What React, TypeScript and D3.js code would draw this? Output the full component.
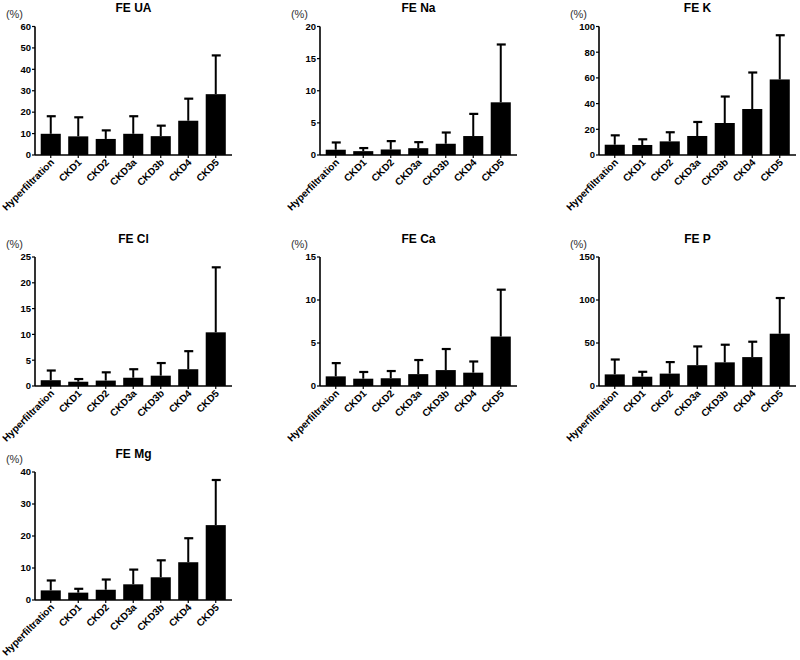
import React from "react";
import * as d3 from "d3";

const categories = ["Hyperfiltration", "CKD1", "CKD2", "CKD3a", "CKD3b", "CKD4", "CKD5"];

const panelTitles = ["FE UA", "FE Na", "FE K", "FE Cl", "FE Ca", "FE P", "FE Mg"];

const uaMean = [9.9, 8.7, 7.5, 9.9, 8.8, 16.0, 28.4];
const uaErr = [18.1, 17.6, 11.5, 18.1, 13.7, 26.3, 46.5];
const naMean = [0.82, 0.6, 0.86, 1.06, 1.75, 2.95, 8.2];
const naErr = [1.95, 1.08, 2.16, 2.0, 3.5, 6.4, 17.2];
const kMean = [8.0, 7.8, 10.6, 14.8, 24.9, 35.8, 58.8];
const kErr = [15.3, 12.2, 17.7, 25.7, 45.5, 64.2, 93.2];
const clMean = [1.12, 0.83, 1.05, 1.6, 2.0, 3.25, 10.4];
const clErr = [3.0, 1.35, 2.65, 3.25, 4.45, 6.75, 23.0];
const caMean = [1.12, 0.85, 0.9, 1.38, 1.85, 1.55, 5.75];
const caErr = [2.66, 1.63, 1.74, 3.02, 4.3, 2.85, 11.2];
const pMean = [13.5, 10.8, 14.4, 24.2, 27.5, 33.6, 60.8];
const pErr = [30.8, 16.5, 27.8, 46.0, 48.0, 51.5, 102.3];
const mgMean = [3.0, 2.3, 3.2, 4.9, 7.1, 11.8, 23.4];
const mgErr = [6.1, 3.5, 6.4, 9.5, 12.4, 19.3, 37.5];

const yMaxes = [60, 20, 100, 25, 15, 150, 40];
const yTicks = [
  [0, 10, 20, 30, 40, 50, 60],
  [0, 5, 10, 15, 20],
  [0, 20, 40, 60, 80, 100],
  [0, 5, 10, 15, 20, 25],
  [0, 5, 10, 15],
  [0, 50, 100, 150],
  [0, 10, 20, 30, 40],
];
const unitLabel = "(%)";

const means = [uaMean, naMean, kMean, clMean, caMean, pMean, mgMean];
const errs = [uaErr, naErr, kErr, clErr, caErr, pErr, mgErr];

const colX = [35, 320, 599];
const rowTop = [26.5, 257, 472];
const rowBase = [155, 386, 600];

const FONT = "'Liberation Sans', Arial, Helvetica, sans-serif";

function Panel({ idx }: { idx: number }) {
  const col = idx % 3;
  const row = Math.floor(idx / 3);
  const ax = colX[col];
  const top = rowTop[row];
  const base = rowBase[row];
  const axisLen = 197;

  const x = d3
    .scaleBand<string>()
    .domain(categories)
    .range([ax + 2, ax + 2 + 7 * 27.5])
    .paddingInner(0.27)
    .paddingOuter(0.135);
  const y = d3.scaleLinear().domain([0, yMaxes[idx]]).range([base, top]);
  const bw = x.bandwidth();
  const capW = 9;

  return (
    <g>
      <text
        x={ax + axisLen / 2}
        y={top - 14.5}
        textAnchor="middle"
        fontFamily={FONT}
        fontWeight="bold"
        fontSize={12}
        fill="#000"
      >
        {panelTitles[idx]}
      </text>
      <text
        x={ax - 12}
        y={top - 9}
        textAnchor="end"
        fontFamily={FONT}
        fontSize={11}
        fill="#333"
      >
        {unitLabel}
      </text>
      {/* bars */}
      {categories.map((c, i) => {
        const cx = (x(c) as number) + bw / 2;
        const yt = y(means[idx][i]);
        const ye = y(errs[idx][i]);
        return (
          <g key={c}>
            <line x1={cx} x2={cx} y1={yt} y2={ye} stroke="#000" strokeWidth={2} />
            <line x1={cx - capW / 2 + 0.5} x2={cx + capW / 2 + 0.5} y1={ye} y2={ye} stroke="#000" strokeWidth={2.2} />
            <rect x={x(c)} y={yt} width={bw} height={base - yt} fill="#000" />
          </g>
        );
      })}
      {/* y axis */}
      <line x1={ax} x2={ax} y1={top} y2={base} stroke="#000" strokeWidth={1.6} />
      {yTicks[idx].map((t) => (
        <g key={t}>
          <line x1={ax - 3} x2={ax} y1={y(t)} y2={y(t)} stroke="#000" strokeWidth={1.2} />
          <text
            x={ax - 4}
            y={y(t)}
            dy="0.35em"
            textAnchor="end"
            fontFamily={FONT}
            fontWeight="bold"
            fontSize={9.5}
            fill="#000"
          >
            {t}
          </text>
        </g>
      ))}
      {/* x axis */}
      <line x1={ax} x2={ax + axisLen} y1={base} y2={base} stroke="#000" strokeWidth={1.6} />
      {categories.map((c) => {
        const cx = (x(c) as number) + bw / 2;
        return (
          <g key={"t" + c}>
            <line x1={cx} x2={cx} y1={base} y2={base + 3} stroke="#000" strokeWidth={1.2} />
            <text
              transform={`translate(${cx + 4},${base + 8}) rotate(-45)`}
              textAnchor="end"
              fontFamily={FONT}
              fontWeight="bold"
              fontSize={10}
              fill="#000"
            >
              {c}
            </text>
          </g>
        );
      })}
    </g>
  );
}

export default function App() {
  return (
    <svg
      width={800}
      height={660}
      viewBox="0 0 800 660"
      style={{ position: "absolute", left: 0, top: 0, background: "#fff" }}
    >
      <rect x={0} y={0} width={800} height={660} fill="#fff" />
      {panelTitles.map((_, i) => (
        <Panel key={i} idx={i} />
      ))}
    </svg>
  );
}
